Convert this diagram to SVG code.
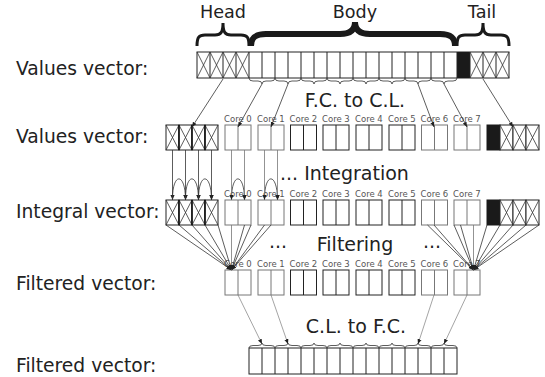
<svg xmlns="http://www.w3.org/2000/svg" width="545" height="377" viewBox="0 0 545 377">
<style>
text{font-family:"DejaVu Sans",Verdana,"Liberation Sans",sans-serif;fill:#222}
.lbl{font-size:18.7px}
.hdr{font-size:17.6px;text-anchor:middle}
.mid{font-size:19px}
.core{font-size:8.5px;fill:#555}
.dk{stroke:#222;stroke-width:1}
.gy{stroke:#777;stroke-width:1}
.cn{stroke:#333;stroke-width:0.8;fill:none}
.cg{stroke:#777;stroke-width:0.8;fill:none}
.thin{stroke:#666;stroke-width:0.6;fill:none}
.brace{fill:none;stroke:#1a1a1a}
</style>
<defs>
<marker id="ah" viewBox="0 0 6 6" refX="6" refY="3" markerWidth="5" markerHeight="5" markerUnits="userSpaceOnUse" orient="auto"><path d="M0,0.5L6,3L0,5.5z" fill="#222"/></marker>
<g id="hx"><rect width="13" height="25" fill="#fff" stroke="#222"/><path d="M0,0L13,25M13,0L0,25" stroke="#333" stroke-width="0.8"/></g>
<g id="bk"><rect width="13" height="25" fill="#1a1a1a" stroke="#1a1a1a"/></g>
<g id="core"><rect width="26" height="25" fill="#fff"/><path d="M13,0V25"/></g>
</defs>

<g id="labels">
<text class="lbl" x="16" y="75">Values vector:</text>
<text class="lbl" x="16" y="143">Values vector:</text>
<text class="lbl" x="16" y="218">Integral vector:</text>
<text class="lbl" x="16" y="290">Filtered vector:</text>
<text class="lbl" x="16" y="372">Filtered vector:</text>
<text class="hdr" x="223" y="18">Head</text>
<text class="hdr" x="355" y="18">Body</text>
<text class="hdr" x="482" y="18">Tail</text>
<text class="mid" x="355" y="107" text-anchor="middle">F.C. to C.L.</text>
<text class="mid" x="280" y="180">... Integration</text>
<text class="mid" x="355" y="251" text-anchor="middle">Filtering</text>
<text class="mid" x="269" y="248">...</text>
<text class="mid" x="423" y="248">...</text>
<text class="mid" x="356" y="333" text-anchor="middle">C.L. to F.C.</text>
</g>

<g id="braces">
<path class="brace" stroke-width="3" d="M197,46C197,37 199,35 205,35H215C221,35 223,32 223,23C223,32 225,35 231,35H241C247,35 249,37 249,46"/>
<path class="brace" stroke-width="6" d="M251,46C251,37 256,34 266,34H340C350,34 355,30 355,22C355,30 360,34 370,34H440C450,34 455,37 455,46"/>
<path class="brace" stroke-width="3" d="M457,46C457,37 459,35 465,35H475C481,35 483,32 483,23C483,32 485,35 491,35H501C507,35 509,37 509,46"/>
</g>

<g id="values-top">
<rect x="197" y="52" width="312" height="26" fill="#fff" stroke="#222"/>
<rect x="457" y="52" width="13" height="26" fill="#1a1a1a"/>
<path stroke="#222" stroke-width="1" fill="none" d="M210,52V78M223,52V78M236,52V78M249,52V78M262,52V78M275,52V78M288,52V78M301,52V78M314,52V78M327,52V78M340,52V78M353,52V78M366,52V78M379,52V78M392,52V78M405,52V78M418,52V78M431,52V78M444,52V78M457,52V78M470,52V78M483,52V78M496,52V78"/>
<path stroke="#333" stroke-width="0.8" fill="none" d="M197,52L210,78M210,52L197,78M210,52L223,78M223,52L210,78M223,52L236,78M236,52L223,78M236,52L249,78M249,52L236,78M470,52L483,78M483,52L470,78M483,52L496,78M496,52L483,78M496,52L509,78M509,52L496,78"/>
<path stroke="#333" stroke-width="0.8" fill="none" d="M249,78Q249,81 253,81H258Q262,81 262,84Q262,81 266,81H271Q275,81 275,78M275,78Q275,81 279,81H284Q288,81 288,84Q288,81 292,81H297Q301,81 301,78M301,78Q301,81 305,81H310Q314,81 314,84Q314,81 318,81H323Q327,81 327,78M327,78Q327,81 331,81H336Q340,81 340,84Q340,81 344,81H349Q353,81 353,78M353,78Q353,81 357,81H362Q366,81 366,84Q366,81 370,81H375Q379,81 379,78M379,78Q379,81 383,81H388Q392,81 392,84Q392,81 396,81H401Q405,81 405,78M405,78Q405,81 409,81H414Q418,81 418,84Q418,81 422,81H427Q431,81 431,78M431,78Q431,81 435,81H440Q444,81 444,84Q444,81 448,81H453Q457,81 457,78"/>
</g>

<g id="values-cl">
<use href="#hx" x="166" y="125"/><use href="#hx" x="179" y="125"/><use href="#hx" x="192" y="125"/><use href="#hx" x="205" y="125"/>
<path d="M179,125V150M192,125V150M205,125V150" stroke="#111" stroke-width="1.5"/>
<g id="v-core0"><use href="#core" class="gy" x="225" y="125"/><text class="core" x="224" y="122">Core 0</text></g>
<g id="v-core1"><use href="#core" class="gy" x="258" y="125"/><text class="core" x="257" y="122">Core 1</text></g>
<g id="v-core2"><use href="#core" class="dk" x="290.5" y="125"/><text class="core" x="289.5" y="122">Core 2</text></g>
<g id="v-core3"><use href="#core" class="dk" x="323" y="125"/><text class="core" x="322" y="122">Core 3</text></g>
<g id="v-core4"><use href="#core" class="dk" x="356" y="125"/><text class="core" x="355" y="122">Core 4</text></g>
<g id="v-core5"><use href="#core" class="dk" x="389" y="125"/><text class="core" x="388" y="122">Core 5</text></g>
<g id="v-core6"><use href="#core" class="gy" x="421.5" y="125"/><text class="core" x="420.5" y="122">Core 6</text></g>
<g id="v-core7"><use href="#core" class="gy" x="454" y="125"/><text class="core" x="453" y="122">Core 7</text></g>
<use href="#bk" x="487" y="125"/><use href="#hx" x="500" y="125"/><use href="#hx" x="513" y="125"/><use href="#hx" x="526" y="125"/>
</g>

<g id="integral">
<use href="#hx" x="166" y="200"/><use href="#hx" x="179" y="200"/><use href="#hx" x="192" y="200"/><use href="#hx" x="205" y="200"/>
<path d="M179,200V225M192,200V225M205,200V225" stroke="#111" stroke-width="1.5"/>
<g id="i-core0"><use href="#core" class="gy" x="225" y="200"/><text class="core" x="224" y="197">Core 0</text></g>
<g id="i-core1"><use href="#core" class="gy" x="258" y="200"/><text class="core" x="257" y="197">Core 1</text></g>
<g id="i-core2"><use href="#core" class="dk" x="290.5" y="200"/><text class="core" x="289.5" y="197">Core 2</text></g>
<g id="i-core3"><use href="#core" class="dk" x="323" y="200"/><text class="core" x="322" y="197">Core 3</text></g>
<g id="i-core4"><use href="#core" class="dk" x="356" y="200"/><text class="core" x="355" y="197">Core 4</text></g>
<g id="i-core5"><use href="#core" class="dk" x="389" y="200"/><text class="core" x="388" y="197">Core 5</text></g>
<g id="i-core6"><use href="#core" class="gy" x="421.5" y="200"/><text class="core" x="420.5" y="197">Core 6</text></g>
<g id="i-core7"><use href="#core" class="gy" x="454" y="200"/><text class="core" x="453" y="197">Core 7</text></g>
<use href="#bk" x="487" y="200"/><use href="#hx" x="500" y="200"/><use href="#hx" x="513" y="200"/><use href="#hx" x="526" y="200"/>
</g>

<g id="filtered-cl">
<g id="f-core0"><use href="#core" class="gy" x="225" y="270"/><text class="core" x="224" y="267">Core 0</text></g>
<g id="f-core1"><use href="#core" class="gy" x="258" y="270"/><text class="core" x="257" y="267">Core 1</text></g>
<g id="f-core2"><use href="#core" class="dk" x="290.5" y="270"/><text class="core" x="289.5" y="267">Core 2</text></g>
<g id="f-core3"><use href="#core" class="dk" x="323" y="270"/><text class="core" x="322" y="267">Core 3</text></g>
<g id="f-core4"><use href="#core" class="dk" x="356" y="270"/><text class="core" x="355" y="267">Core 4</text></g>
<g id="f-core5"><use href="#core" class="dk" x="389" y="270"/><text class="core" x="388" y="267">Core 5</text></g>
<g id="f-core6"><use href="#core" class="gy" x="421.5" y="270"/><text class="core" x="420.5" y="267">Core 6</text></g>
<g id="f-core7"><use href="#core" class="gy" x="454" y="270"/><text class="core" x="453" y="267">Core 7</text></g>
</g>

<g id="filtered-fc">
<rect x="249" y="348" width="208" height="26" fill="#fff" stroke="#222"/>
<path stroke="#222" stroke-width="1" fill="none" d="M262,348V374M275,348V374M288,348V374M301,348V374M314,348V374M327,348V374M340,348V374M353,348V374M366,348V374M379,348V374M392,348V374M405,348V374M418,348V374M431,348V374M444,348V374"/>
<path stroke="#333" stroke-width="0.8" fill="none" d="M249,348Q249,345.5 253,345.5H258Q262,345.5 262,343Q262,345.5 266,345.5H271Q275,345.5 275,348M275,348Q275,345.5 279,345.5H284Q288,345.5 288,343Q288,345.5 292,345.5H297Q301,345.5 301,348M301,348Q301,345.5 305,345.5H310Q314,345.5 314,343Q314,345.5 318,345.5H323Q327,345.5 327,348M327,348Q327,345.5 331,345.5H336Q340,345.5 340,343Q340,345.5 344,345.5H349Q353,345.5 353,348M353,348Q353,345.5 357,345.5H362Q366,345.5 366,343Q366,345.5 370,345.5H375Q379,345.5 379,348M379,348Q379,345.5 383,345.5H388Q392,345.5 392,343Q392,345.5 396,345.5H401Q405,345.5 405,348M405,348Q405,345.5 409,345.5H414Q418,345.5 418,343Q418,345.5 422,345.5H427Q431,345.5 431,348M431,348Q431,345.5 435,345.5H440Q444,345.5 444,343Q444,345.5 448,345.5H453Q457,345.5 457,348"/>
</g>

<g id="connectors">
<g class="cn" marker-end="url(#ah)">
<path d="M223,79L192,127"/>
<path d="M262,84L238,127"/>
<path d="M288,84L271,127"/>
<path d="M418,84L434,127"/>
<path d="M444,84L467,127"/>
<path d="M483,79L513,127"/>
</g>
<g class="cn" marker-end="url(#ah)">
<path d="M172.5,150V200"/><path d="M185.5,150V200"/><path d="M198.5,150V200"/><path d="M211.5,150V200"/>
<path d="M172.5,199C172.5,172 185.5,172 185.5,200"/>
<path d="M185.5,199C185.5,172 198.5,172 198.5,200"/>
<path d="M198.5,199C198.5,172 211.5,172 211.5,200"/>
<path d="M231.5,199C231.5,172 244.5,172 244.5,200"/>
<path d="M264.5,199C264.5,172 277.5,172 277.5,200"/>
</g>
<g class="cg" marker-end="url(#ah)">
<path d="M231.5,150V200"/><path d="M244.5,150V200"/><path d="M264.5,150V200"/><path d="M277.5,150V200"/>
</g>
<g class="cn" marker-end="url(#ah)">
<path d="M166,225L231.5,270"/><path d="M179,225L231.5,270"/><path d="M192,225L231.5,270"/><path d="M205,225L231.5,270"/><path d="M218,225L231.5,270"/>
<path d="M244.5,225L231.5,270"/><path d="M251,225L231.5,270"/><path d="M264.5,225L231.5,270"/><path d="M271,225L231.5,270"/>
<path d="M427.5,225L473.5,270"/><path d="M434,225L473.5,270"/><path d="M454,225L473.5,270"/><path d="M460.5,225L473.5,270"/>
<path d="M487,225L473.5,270"/><path d="M500,225L473.5,270"/><path d="M513,225L473.5,270"/><path d="M526,225L473.5,270"/><path d="M539,225L473.5,270"/>
</g>
<g class="cg" marker-end="url(#ah)">
<path d="M231.5,225V270"/><path d="M473.5,225V270"/>
</g>
<g class="thin" marker-end="url(#ah)">
<path d="M238,295L262,344"/>
<path d="M271,295L288,344"/>
<path d="M434,295L418,344"/>
<path d="M467,295L444,344"/>
</g>
</g>
</svg>
